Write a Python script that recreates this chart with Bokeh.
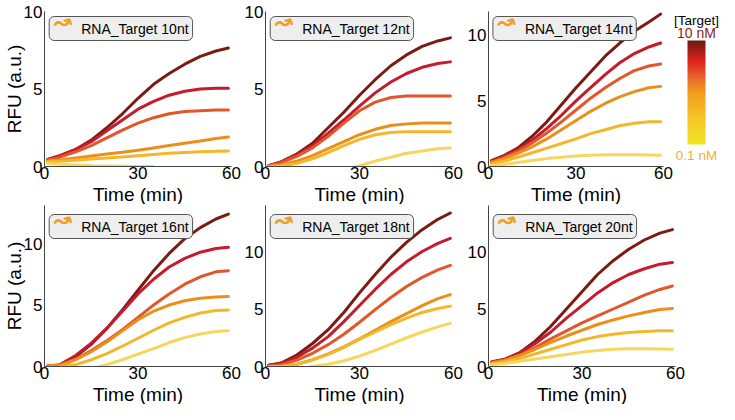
from bokeh.plotting import figure
from bokeh.layouts import row, column
from bokeh.models import Range1d, FixedTicker, Label, ColorBar, LinearColorMapper, Title
from bokeh.embed import file_html
from bokeh.resources import INLINE

nan = float("nan")

# ---------------- data ----------------
time_min = [1, 5, 10, 15, 20, 25, 30, 35, 40, 45, 50, 55, 59]

panel_titles = ["RNA_Target 10nt", "RNA_Target 12nt", "RNA_Target 14nt",
                "RNA_Target 16nt", "RNA_Target 18nt", "RNA_Target 20nt"]

# series order: highest [Target] (10 nM) ... lowest (0.1 nM)
rfu_10nt = [
    [0.45, 0.7, 1.1, 1.7, 2.5, 3.4, 4.4, 5.3, 6.0, 6.6, 7.1, 7.45, 7.65],
    [0.45, 0.7, 1.1, 1.6, 2.3, 3.0, 3.7, 4.2, 4.6, 4.85, 5.0, 5.05, 5.05],
    [0.4, 0.6, 0.95, 1.35, 1.85, 2.35, 2.8, 3.15, 3.4, 3.55, 3.6, 3.65, 3.65],
    [0.35, 0.42, 0.55, 0.68, 0.8, 0.92, 1.05, 1.2, 1.35, 1.5, 1.65, 1.8, 1.9],
    [0.3, 0.34, 0.4, 0.48, 0.55, 0.62, 0.7, 0.78, 0.85, 0.9, 0.95, 0.98, 1.0],
    [0.2, 0.15, 0.1, 0.05, 0.03, 0.01, 0.0, 0.0, nan, nan, nan, nan, nan],
]
rfu_12nt = [
    [0.05, 0.3, 0.8, 1.5, 2.5, 3.5, 4.6, 5.6, 6.5, 7.2, 7.75, 8.1, 8.3],
    [0.05, 0.3, 0.75, 1.35, 2.15, 3.0, 3.9, 4.75, 5.45, 6.0, 6.4, 6.65, 6.75],
    [0.05, 0.25, 0.65, 1.2, 1.95, 2.8, 3.6, 4.15, 4.45, 4.55, 4.55, 4.55, 4.55],
    [0.0, 0.1, 0.35, 0.7, 1.15, 1.6, 2.05, 2.4, 2.65, 2.75, 2.8, 2.8, 2.8],
    [0.0, 0.05, 0.2, 0.5, 0.9, 1.35, 1.75, 2.05, 2.2, 2.25, 2.25, 2.25, 2.25],
    [nan, nan, nan, nan, nan, -0.2, 0.05, 0.35, 0.6, 0.85, 1.0, 1.15, 1.2],
]
rfu_14nt = [
    [0.45, 0.8, 1.4, 2.3, 3.4, 4.7, 6.0, 7.2, 8.4, 9.4, 10.3, 11.0, 11.6],
    [0.4, 0.75, 1.3, 2.0, 2.9, 3.9, 5.0, 6.0, 7.0, 7.9, 8.6, 9.1, 9.4],
    [0.35, 0.65, 1.15, 1.8, 2.55, 3.4, 4.3, 5.2, 6.0, 6.7, 7.3, 7.65, 7.8],
    [0.3, 0.55, 1.0, 1.5, 2.1, 2.8, 3.5, 4.2, 4.8, 5.3, 5.7, 6.0, 6.1],
    [0.2, 0.4, 0.7, 1.05, 1.4, 1.75, 2.1, 2.5, 2.8, 3.1, 3.3, 3.4, 3.4],
    [0.05, 0.15, 0.3, 0.45, 0.6, 0.7, 0.8, 0.85, 0.9, 0.9, 0.9, 0.87, 0.85],
]
rfu_16nt = [
    [0.05, 0.1, 0.8, 1.8, 3.1, 4.6, 6.2, 7.8, 9.2, 10.4, 11.3, 12.0, 12.4],
    [0.05, 0.15, 0.9, 1.9, 3.1, 4.5, 5.9, 7.1, 8.1, 8.8, 9.3, 9.6, 9.7],
    [0.05, 0.1, 0.6, 1.3, 2.1, 3.0, 4.0, 5.0, 5.9, 6.7, 7.3, 7.7, 7.8],
    [0.05, 0.1, 0.55, 1.2, 2.0, 2.9, 3.8, 4.5, 5.0, 5.35, 5.55, 5.65, 5.7],
    [nan, 0.0, 0.15, 0.55, 1.05, 1.65, 2.3, 2.95, 3.55, 4.0, 4.35, 4.55, 4.6],
    [nan, nan, nan, -0.2, 0.15, 0.55, 1.0, 1.45, 1.95, 2.35, 2.65, 2.85, 2.9],
]
rfu_18nt = [
    [0.1, 0.3, 1.0, 2.0, 3.2, 4.7, 6.4, 8.0, 9.5, 10.8, 11.9, 12.8, 13.35],
    [0.1, 0.25, 0.8, 1.6, 2.6, 3.9, 5.3, 6.7, 8.0, 9.1, 10.0, 10.7, 11.15],
    [0.05, 0.15, 0.55, 1.15, 1.9, 2.8, 3.85, 4.95, 6.0, 6.95, 7.75, 8.4, 8.8],
    [0.0, 0.0, 0.2, 0.6, 1.1, 1.7, 2.4, 3.15, 3.9, 4.6, 5.3, 5.9, 6.25],
    [0.0, 0.0, 0.2, 0.55, 1.05, 1.65, 2.35, 3.0, 3.65, 4.2, 4.7, 5.05, 5.25],
    [nan, nan, -0.2, 0.0, 0.2, 0.5, 0.9, 1.4, 1.95, 2.5, 3.0, 3.45, 3.75],
]
rfu_20nt = [
    [0.4, 0.6, 1.2, 2.2, 3.5, 5.0, 6.5, 8.0, 9.2, 10.2, 11.0, 11.6, 11.9],
    [0.4, 0.6, 1.15, 2.0, 3.0, 4.2, 5.3, 6.4, 7.3, 8.0, 8.5, 8.9, 9.05],
    [0.35, 0.55, 1.0, 1.65, 2.4, 3.1, 3.8, 4.4, 5.0, 5.6, 6.2, 6.7, 7.0],
    [0.3, 0.5, 0.95, 1.5, 2.1, 2.65, 3.15, 3.65, 4.05, 4.4, 4.7, 4.95, 5.05],
    [0.25, 0.4, 0.7, 1.1, 1.5, 1.9, 2.3, 2.6, 2.8, 2.95, 3.05, 3.1, 3.1],
    [0.15, 0.25, 0.45, 0.65, 0.85, 1.05, 1.25, 1.4, 1.5, 1.55, 1.55, 1.52, 1.5],
]
panel_data = [rfu_10nt, rfu_12nt, rfu_14nt, rfu_16nt, rfu_18nt, rfu_20nt]

y_max = [10, 10, 11.8, 13.1, 14, 14]
x_ticks = [0, 30, 60]
y_ticks = [0, 5, 10]
x_label = "Time (min)"
y_label = "RFU (a.u.)"

series_colors = ["#7a1c12", "#c41b2d", "#e2572a", "#ec8f18", "#f3b72c", "#f6d65c"]
bar_anchor_colors = ["#f2e424", "#f4c52a", "#f39c1c", "#e8632a", "#e0241e", "#6e1a0e"]
bar_anchor_pos = [0.0, 0.25, 0.5, 0.65, 0.8, 1.0]
bar_title = "[Target]"
bar_high_label = "10 nM"
bar_low_label = "0.1 nM"

FONT = "Liberation Sans"

# ---------------- layout ----------------
fig_w = [[241, 223, 209], [241, 223, 255]]
left_b = [38, 21, 21]
right_b = [[10, 11, 10], [10, 11, 44]]
row_h = [204, 200]
top_b = [11, 1]
bottom_b = 30
box_off = [-5, -9]


def make_palette(n=128):
    def hx(c):
        return tuple(int(c[i:i + 2], 16) for i in (1, 3, 5))
    out = []
    for k in range(n):
        t = k / (n - 1)
        for j in range(len(bar_anchor_pos) - 1):
            if bar_anchor_pos[j] <= t <= bar_anchor_pos[j + 1]:
                f = (t - bar_anchor_pos[j]) / (bar_anchor_pos[j + 1] - bar_anchor_pos[j])
                a, b = hx(bar_anchor_colors[j]), hx(bar_anchor_colors[j + 1])
                rgb = [round(a[i] + (b[i] - a[i]) * f) for i in range(3)]
                out.append("#%02x%02x%02x" % tuple(rgb))
                break
    return out


figs = []
for idx in range(6):
    r, c = divmod(idx, 3)
    p = figure(width=fig_w[r][c], height=row_h[r], output_backend="svg",
               toolbar_location=None, tools="", title_location=None,
               x_range=Range1d(0, 60), y_range=Range1d(0, y_max[idx]),
               min_border_left=left_b[c], min_border_right=right_b[r][c],
               min_border_top=top_b[r], min_border_bottom=bottom_b)
    p.outline_line_color = None
    p.background_fill_color = None
    p.border_fill_color = None
    p.grid.visible = False
    for ax in (p.xaxis[0], p.yaxis[0]):
        ax.axis_line_color = "#444444"
        ax.axis_line_width = 1
        ax.major_tick_out = 0
        ax.major_tick_in = 0
        ax.minor_tick_out = 0
        ax.minor_tick_in = 0
        ax.major_tick_line_color = None
        ax.minor_tick_line_color = None
        ax.major_label_text_font = FONT
        ax.major_label_text_font_size = "17px"
        ax.major_label_text_color = "black"
        ax.axis_label_text_font = FONT
        ax.axis_label_text_font_size = "19px"
        ax.axis_label_text_font_style = "normal"
        ax.axis_label_text_color = "black"
    p.xaxis.major_label_standoff = 0
    p.yaxis.major_label_standoff = 2
    p.yaxis.axis_label_standoff = -4
    p.xaxis.ticker = FixedTicker(ticks=x_ticks)
    p.yaxis.ticker = FixedTicker(ticks=y_ticks)
    if c == 0:
        p.yaxis.axis_label = y_label
    # x-axis title drawn as a title panel below the axis
    p.add_layout(Title(text=x_label, align="center", vertical_align="bottom",
                       text_font=FONT, text_font_size="19px",
                       text_font_style="normal", text_color="black",
                       standoff=0, offset=0), "below")

    for s, vals in enumerate(panel_data[idx]):
        p.line(time_min, vals, line_color=series_colors[s], line_width=3,
               line_cap="round", line_join="round")

    p.add_layout(Label(x=1.5, y=y_max[idx], y_offset=box_off[r],
                       text=panel_titles[idx], text_align="left", text_baseline="top",
                       text_font=FONT, text_font_size="14px", text_color="black",
                       background_fill_color="#eeeeee", border_line_color="#555555",
                       border_line_width=1, border_radius=5,
                       padding=dict(left=32, right=4, top=4, bottom=4)))
    p.add_layout(Label(x=1.5, x_offset=4, y=y_max[idx], y_offset=box_off[r] - 8,
                       text="↝", text_align="left", text_baseline="middle",
                       angle=0.3,
                       text_font="DejaVu Sans", text_font_size="22px",
                       text_font_style="bold", text_color="#f0a020"))
    figs.append(p)

# colour-bar key in its own small panel, positioned from the top of its frame
cbf = figure(width=46, height=row_h[0], output_backend="svg", toolbar_location=None,
             tools="", title_location=None,
             x_range=Range1d(0, 46), y_range=Range1d(0, 1),
             x_axis_type=None, y_axis_type=None, min_border=0)
cbf.outline_line_color = None
cbf.grid.visible = False
cbf.background_fill_color = None
cbf.border_fill_color = None
mapper = LinearColorMapper(palette=make_palette(), low=0, high=1)
cb = ColorBar(color_mapper=mapper, orientation="vertical", width=18, height=104,
              location="top_center", margin=29, padding=0,
              ticker=FixedTicker(ticks=[]),
              major_tick_line_color=None, minor_tick_line_color=None,
              major_label_text_font_size="0px",
              bar_line_color=None, border_line_color=None,
              background_fill_color=None)
cbf.add_layout(cb)
for txt, off, col, size in [(bar_title, -9, "black", "13.5px"),
                            (bar_high_label, -21, "#8e1c1c", "14px"),
                            (bar_low_label, -144, "#f0b02c", "13.5px")]:
    cbf.add_layout(Label(x=23, y=1, y_offset=off, text=txt, text_align="center",
                         text_baseline="middle", text_font=FONT,
                         text_font_size=size, text_color=col))

layout = column(row(figs[0], figs[1], figs[2], cbf),
                row(figs[3], figs[4], figs[5]))

with open("out.html", "w") as fh_out:
    fh_out.write(file_html(layout, INLINE))
